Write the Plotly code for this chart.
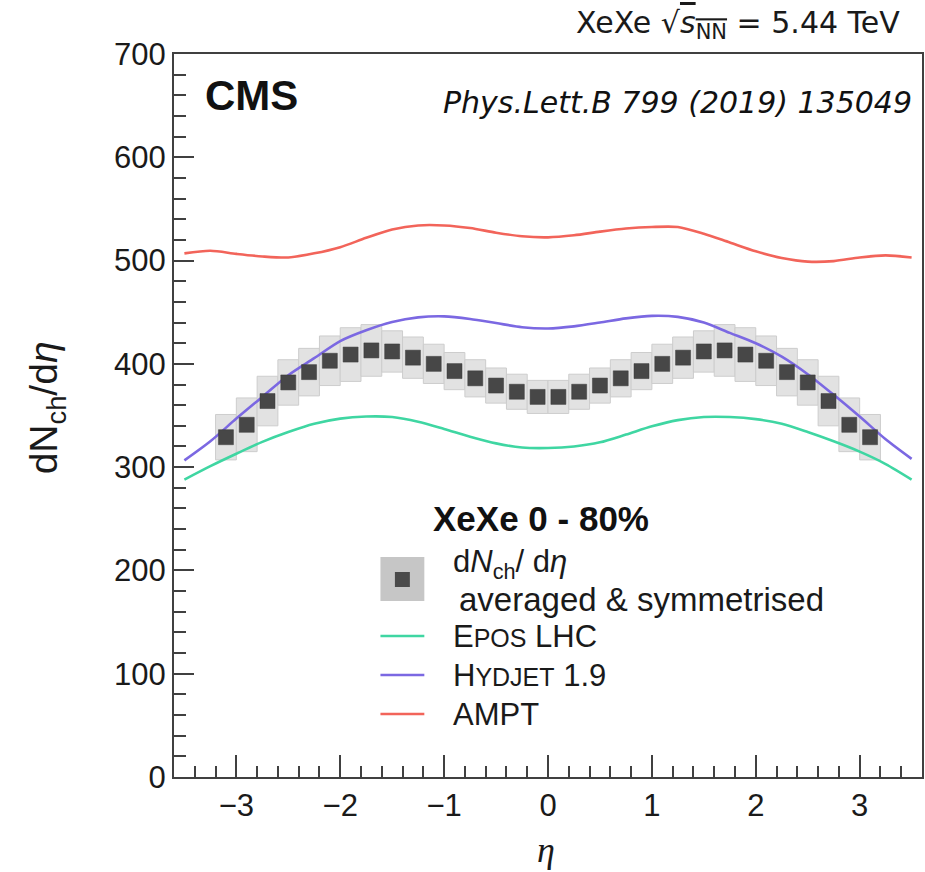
import plotly.graph_objects as go

# ---------------- data ----------------
eta_pts = [-3.1, -2.9, -2.7, -2.5, -2.3, -2.1, -1.9, -1.7, -1.5, -1.3, -1.1, -0.9, -0.7, -0.5, -0.3, -0.1,
           0.1, 0.3, 0.5, 0.7, 0.9, 1.1, 1.3, 1.5, 1.7, 1.9, 2.1, 2.3, 2.5, 2.7, 2.9, 3.1]
dndeta = [329, 341, 364, 382, 392, 403, 409, 413, 412, 406, 400, 393, 386, 379, 373, 368,
          368, 373, 379, 386, 393, 400, 406, 412, 413, 409, 403, 392, 382, 364, 341, 329]
syst = [22, 26, 24, 22, 23, 24, 26, 25, 20, 20, 19, 18, 18, 17, 17, 16,
        16, 17, 17, 18, 18, 19, 20, 20, 25, 26, 24, 23, 22, 24, 26, 22]

eta_model = [-3.5, -3.25, -3.0, -2.75, -2.5, -2.25, -2.0, -1.75, -1.5, -1.25, -1.0, -0.75, -0.5, -0.25, 0.0,
             0.25, 0.5, 0.75, 1.0, 1.25, 1.5, 1.75, 2.0, 2.25, 2.5, 2.75, 3.0, 3.25, 3.5]
ampt = [507, 509.5, 506.5, 504, 503, 507, 513, 522, 530, 534, 534, 531.5, 527, 523.5, 522.5,
        524.5, 528, 531, 532.5, 532.5, 526, 517.5, 509, 502.5, 499, 499.5, 503, 505, 503]
hydjet = [306.5, 325, 347, 368, 389, 405.5, 422, 432.5, 440.5, 445, 446, 443.5, 439.5, 435.5, 434.3,
          436.3, 440, 444, 446.5, 445.5, 440, 430, 420, 407, 390, 370, 349, 327, 308]
epos = [288, 301, 313, 324.5, 334, 342, 347, 349, 348.5, 344, 337, 329.5, 323, 319, 318.5,
        320, 324, 331.5, 339.5, 345.5, 348.5, 348.5, 346.5, 342, 334, 325, 315, 303, 288]

x_ticks = [-3, -2, -1, 0, 1, 2, 3]
x_ticklabels = ["\u22123", "\u22122", "\u22121", "0", "1", "2", "3"]
y_ticks = [0, 100, 200, 300, 400, 500, 600, 700]

# ---------------- style ----------------
C_EPOS = "#3fd6a2"
C_HYD = "#7b68e2"
C_AMPT = "#f2645a"
FONT = "Liberation Sans"

W, H = 925, 872
ML, MR, MT, MB = 174, 1, 54, 95
PW, PH = W - ML - MR, H - MT - MB


def px(x):
    return (x - ML) / PW


def py(y):
    return (H - MB - y) / PH


fig = go.Figure()

# systematic boxes
fig.add_trace(go.Bar(
    x=eta_pts,
    y=[2 * e for e in syst],
    base=[v - e for v, e in zip(dndeta, syst)],
    width=0.2,
    marker=dict(color="#e2e2e2", line=dict(color="#cdcdcd", width=1)),
    showlegend=False, hoverinfo="skip",
))

# models
for vals, col, name in [(epos, C_EPOS, "EPOS LHC"), (hydjet, C_HYD, "HYDJET 1.9"), (ampt, C_AMPT, "AMPT")]:
    fig.add_trace(go.Scatter(
        x=eta_model, y=vals, mode="lines", line=dict(color=col, width=2.6, shape="spline", smoothing=0.8),
        name=name, showlegend=False,
    ))

# data points
fig.add_trace(go.Scatter(
    x=eta_pts, y=dndeta, mode="markers",
    marker=dict(symbol="square", size=15, color="#474747", line=dict(color="#3a3a3a", width=0.5)),
    showlegend=False,
))

axis_common = dict(
    showgrid=False, zeroline=False, showline=True, linecolor="#404040", linewidth=2,
    mirror=True, ticks="inside", tickcolor="#404040", tickwidth=2,
    tickfont=dict(family=FONT, size=31, color="#1a1a1a"),
)

fig.update_xaxes(
    range=[-3.6, 3.6], tickvals=x_ticks, ticktext=x_ticklabels, ticklen=22,
    minor=dict(dtick=0.2, tick0=0, ticks="inside", ticklen=11, tickcolor="#404040", tickwidth=2, showgrid=False),
    **axis_common,
)
fig.update_yaxes(
    range=[0, 700], tickvals=y_ticks, ticklen=20,
    minor=dict(dtick=20, tick0=0, ticks="inside", ticklen=12, tickcolor="#404040", tickwidth=2, showgrid=False),
    **axis_common,
)

fig.update_layout(
    width=W, height=H, margin=dict(l=ML, r=MR, t=MT, b=MB),
    paper_bgcolor="white", plot_bgcolor="white", barmode="overlay",
    font=dict(family=FONT, color="#1a1a1a"),
)

ann = []
# axis titles
ann.append(dict(x=px(46), y=py(408), xref="paper", yref="paper", textangle=-90,
                text="dN<sub>ch</sub>/d<i>\u03b7</i>", showarrow=False,
                font=dict(family=FONT, size=39, color="#1a1a1a"), xanchor="center", yanchor="middle"))
ann.append(dict(x=px(547), y=py(850), xref="paper", yref="paper",
                text="<i>\u03b7</i>", showarrow=False,
                font=dict(family="Liberation Serif", size=36, color="#1a1a1a"), xanchor="center", yanchor="middle"))
# header
ann.append(dict(x=px(904), y=py(25), xref="paper", yref="paper", xanchor="right", yanchor="middle",
                text="XeXe \u221a<span style=\"text-decoration:overline\"><i>s</i><sub>NN</sub></span> = 5.44 TeV",
                showarrow=False, font=dict(family="DejaVu Sans", size=30, color="#1a1a1a")))
ann.append(dict(x=px(203), y=py(95), xref="paper", yref="paper", xanchor="left", yanchor="middle",
                text="<b>CMS</b>", showarrow=False, font=dict(family=FONT, size=42, color="#111111")))
ann.append(dict(x=px(916), y=py(102), xref="paper", yref="paper", xanchor="right", yanchor="middle",
                text="<i>Phys.Lett.B 799 (2019) 135049</i>", showarrow=False,
                font=dict(family="DejaVu Sans", size=30, color="#111111")))
# legend texts
ann.append(dict(x=px(432), y=py(518), xref="paper", yref="paper", xanchor="left", yanchor="middle",
                text="<b>XeXe 0 - 80%</b>", showarrow=False, font=dict(family=FONT, size=35, color="#111111")))
ann.append(dict(x=px(452), y=py(564), xref="paper", yref="paper", xanchor="left", yanchor="middle",
                text="d<i>N</i><sub>ch</sub>/ d<i>\u03b7</i>", showarrow=False,
                font=dict(family=FONT, size=31, color="#1a1a1a")))
ann.append(dict(x=px(458), y=py(599), xref="paper", yref="paper", xanchor="left", yanchor="middle",
                text="averaged &amp; symmetrised", showarrow=False,
                font=dict(family=FONT, size=33, color="#1a1a1a")))
leg_lines = [
    ("E<span style=\"font-size:25px\">POS</span> LHC", C_EPOS, 636),
    ("H<span style=\"font-size:25px\">YDJET</span> 1.9", C_HYD, 675),
    ("AMPT", C_AMPT, 714),
]
shapes = []
for txt, col, yy in leg_lines:
    ann.append(dict(x=px(452), y=py(yy), xref="paper", yref="paper", xanchor="left", yanchor="middle",
                    text=txt, showarrow=False, font=dict(family=FONT, size=31, color="#1a1a1a")))
    shapes.append(dict(type="line", xref="paper", yref="paper", x0=px(381), x1=px(425), y0=py(yy), y1=py(yy),
                       line=dict(color=col, width=2.6)))
# legend symbol for data
shapes.append(dict(type="rect", xref="paper", yref="paper", x0=px(381), x1=px(425), y0=py(601), y1=py(557),
                   fillcolor="#c6c6c6", line=dict(width=0)))
shapes.append(dict(type="rect", xref="paper", yref="paper", x0=px(395.5), x1=px(410.5), y0=py(587), y1=py(572),
                   fillcolor="#4a4a4a", line=dict(width=0)))

fig.update_layout(annotations=ann, shapes=shapes)
fig.write_html("out.html")
